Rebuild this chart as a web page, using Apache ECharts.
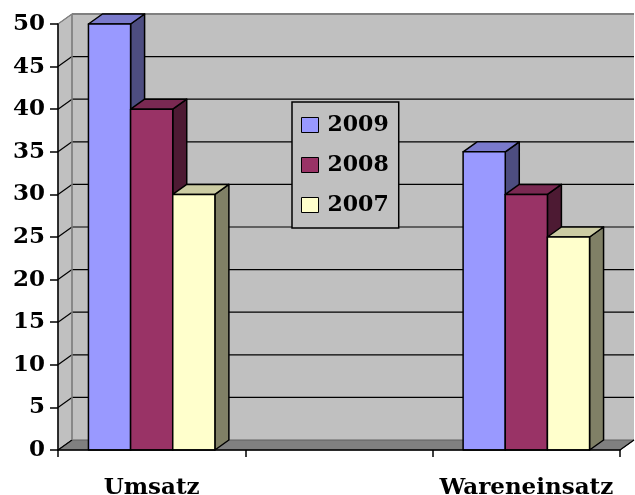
<!DOCTYPE html>
<html><head><meta charset="utf-8">
<script src="https://cdn.jsdelivr.net/npm/echarts@6/dist/echarts.min.js"></script>
<style>html,body{margin:0;padding:0;background:#fff}#c{width:635px;height:495px}</style>
</head><body><div id="c"></div>
<script>
const categories = ['Umsatz', '', 'Wareneinsatz'];
const seriesNames = ['2009', '2008', '2007'];
const values2009 = [50, null, 35];
const values2008 = [40, null, 30];
const values2007 = [30, null, 25];
const yMin = 0, yMax = 50, yStep = 5;

const faceColors = ['#9999FF', '#993366', '#FFFFCC'];
const sideColors = ['#4D4D80', '#4D1A33', '#808066'];
const topColors  = ['#7A7ACC', '#7A2952', '#CCCCA3'];
const DX = 14, DY = -10;
const FONT = 'DejaVu Serif';

const chart = echarts.init(document.getElementById('c'), null, {renderer: 'canvas'});

function wallRender(params, api) {
  const cs = params.coordSys;
  const x = cs.x, y = cs.y, w = cs.width, h = cs.height;
  const children = [];
  children.push({type: 'rect', shape: {x: x + DX, y: y + DY, width: w, height: h},
    style: {fill: '#C0C0C0', stroke: null}});
  children.push({type: 'polygon', shape: {points: [[x, y], [x + DX, y + DY], [x + DX, y + h + DY], [x, y + h]]},
    style: {fill: '#C0C0C0', stroke: '#808080', lineWidth: 1}});
  children.push({type: 'polygon', shape: {points: [[x, y + h], [x + DX, y + h + DY], [x + w + DX, y + h + DY], [x + w, y + h]]},
    style: {fill: '#808080', stroke: '#606060', lineWidth: 1}});
  for (let v = yMin; v <= yMax; v += yStep) {
    const p = api.coord([0, v]);
    const yy = p[1];
    const isTop = v === yMax;
    const col = isTop ? '#808080' : '#000';
    if (v !== yMin) {
      children.push({type: 'line', shape: {x1: x + DX, y1: yy + DY, x2: x + w + DX, y2: yy + DY},
        style: {stroke: col, lineWidth: isTop ? 2 : 1.2}});
    }
    children.push({type: 'line', shape: {x1: x, y1: yy, x2: x + DX, y2: yy + DY},
      style: {stroke: col, lineWidth: 1.2}});
  }
  children.push({type: 'line', shape: {x1: x + DX, y1: y + DY, x2: x + DX, y2: y + h + DY},
    style: {stroke: '#808080', lineWidth: 1.5}});
  children.push({type: 'line', shape: {x1: x + w, y1: y + h, x2: x + w + DX, y2: y + h + DY},
    style: {stroke: '#000', lineWidth: 1.2}});
  return {type: 'group', children: children};
}

function makeBarRender(si) {
  return function (params, api) {
    const ci = api.value(0), v = api.value(1);
    const base = api.coord([ci, 0]);
    const top = api.coord([ci, v]);
    const cw = api.size([1, 0])[0];
    const bw = cw * 0.225;
    const x0 = base[0] - 1.5 * bw + si * bw;
    const x1 = x0 + bw;
    const yt = top[1], yb = base[1];
    const st = {stroke: '#000', lineWidth: 1.5, lineJoin: 'round'};
    return {type: 'group', children: [
      {type: 'polygon', shape: {points: [[x1, yt], [x1 + DX, yt + DY], [x1 + DX, yb + DY], [x1, yb]]},
        style: Object.assign({fill: sideColors[si]}, st)},
      {type: 'polygon', shape: {points: [[x0, yt], [x0 + DX, yt + DY], [x1 + DX, yt + DY], [x1, yt]]},
        style: Object.assign({fill: topColors[si]}, st)},
      {type: 'rect', shape: {x: x0, y: yt, width: bw, height: yb - yt},
        style: Object.assign({fill: faceColors[si]}, st)}
    ]};
  };
}

const allValues = [values2009, values2008, values2007];
const barSeries = allValues.map((vals, si) => ({
  type: 'custom',
  name: seriesNames[si],
  z: 3 + si,
  renderItem: makeBarRender(si),
  itemStyle: {color: faceColors[si], borderColor: '#000', borderWidth: 1},
  data: vals.map((v, i) => [i, v]).filter(d => d[1] != null),
  silent: true
}));

const option = {
  animation: false,
  backgroundColor: '#ffffff',
  grid: {left: 58, right: 15, top: 24, bottom: 45, containLabel: false, outerBoundsMode: 'none'},
  legend: {
    orient: 'vertical',
    left: 292, top: 102,
    padding: [12, 10, 12, 9],
    backgroundColor: '#C0C0C0',
    borderColor: '#000', borderWidth: 1.5,
    itemWidth: 17, itemHeight: 15, itemGap: 18,
    textStyle: {fontFamily: FONT, fontWeight: 'bold', fontSize: 22, color: '#000', lineHeight: 22, padding: [0, 0, 0, 4]},
    data: seriesNames.map((n, i) => ({name: n, icon: 'rect', itemStyle: {color: faceColors[i], borderColor: '#000', borderWidth: 1}})),
    selectedMode: false
  },
  xAxis: {
    type: 'category', data: categories, z: 10,
    axisLine: {show: true, lineStyle: {color: '#000', width: 1.5}},
    axisTick: {show: true, length: 7, lineStyle: {color: '#000', width: 1.5}},
    axisLabel: {interval: 0, margin: 27, fontFamily: FONT, fontWeight: 'bold', fontSize: 23, color: '#000'},
    splitLine: {show: false}
  },
  yAxis: {
    type: 'value', min: yMin, max: yMax, interval: yStep, z: 10,
    axisLine: {show: true, lineStyle: {color: '#000', width: 1.5}},
    axisTick: {show: true, length: 8, lineStyle: {color: '#000', width: 1.5}},
    axisLabel: {margin: 13, fontFamily: FONT, fontWeight: 'bold', fontSize: 23, color: '#000', padding: [5, 0, 0, 0]},
    splitLine: {show: false}
  },
  series: [{
    type: 'custom', name: 'wall', z: 1, silent: true,
    renderItem: wallRender, data: [[0, 0]]
  }].concat(barSeries)
};
chart.setOption(option);
</script>
</body></html>
